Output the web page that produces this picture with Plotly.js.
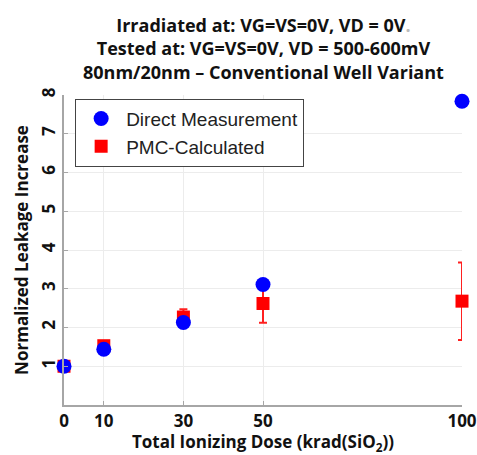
<!DOCTYPE html>
<html><head><meta charset="utf-8">
<script src="https://cdn.plot.ly/plotly-3.0.1.min.js"></script>
<style>html,body{margin:0;padding:0;background:#fff}#c{width:477px;height:455px}</style>
</head><body><div id="c"></div>
<script>
const doses = [0, 10, 30, 50, 100];
const directMeasurement = [1.0, 1.44, 2.13, 3.11, 7.84];
const pmcCalculated = [1.0, 1.53, 2.27, 2.62, 2.68];
const pmcError = [0.05, 0.07, 0.2, 0.5, 1.0];
const xTickLabels = ['0', '10', '30', '50', '100'];
const yTickVals = [1, 2, 3, 4, 5, 6, 7, 8];
const titleLines = ['Irradiated at: VG=VS=0V, VD = 0V<span style="color:#bbb">.</span>',
                    'Tested at: VG=VS=0V, VD = 500-600mV',
                    '80nm/20nm \u2013 Conventional Well Variant'];

const bold = {family: 'Open Sans, sans-serif', size: 17, color: '#111', weight: 'bold'};

const traces = [
  {x: doses, y: pmcCalculated, type: 'scatter', mode: 'markers', name: 'PMC-Calculated', cliponaxis: false,
   marker: {symbol: 'square', size: 13, color: '#ff0000'},
   error_y: {type: 'data', array: pmcError, visible: true, color: '#ff2020', thickness: 2, width: 4}},
  {x: doses, y: directMeasurement, type: 'scatter', mode: 'markers', name: 'Direct Measurement', cliponaxis: false,
   marker: {symbol: 'circle', size: 15, color: '#0000ff'}}
];

const layout = {
  width: 477, height: 455,
  margin: {l: 64, r: 15, t: 95, b: 50},
  paper_bgcolor: '#fff', plot_bgcolor: '#fff',
  annotations: [{text: titleLines.join('<br>'), xref: 'paper', yref: 'paper', x: 0.5, y: 1.27,
                 xanchor: 'center', yanchor: 'top', showarrow: false, align: 'center',
                 font: {family: 'Open Sans, sans-serif', size: 18, color: '#111', weight: 'bold'}}],
  xaxis: {range: [0, 100], tickvals: doses, ticktext: xTickLabels, showgrid: true, gridcolor: '#ececec',
          showline: true, linecolor: '#a6a6a6', linewidth: 2, ticks: 'inside', ticklen: 4, tickcolor: '#a6a6a6',
          zeroline: false, tickfont: bold,
          title: {text: 'Total Ionizing Dose (krad(SiO<sub>2</sub>))', font: bold, standoff: 2}},
  yaxis: {range: [0, 8], tickvals: yTickVals, showgrid: true, gridcolor: '#ececec',
          showline: true, linecolor: '#a6a6a6', linewidth: 2, ticks: 'inside', ticklen: 4, tickcolor: '#a6a6a6',
          zeroline: false, tickfont: bold, tickangle: -90,
          title: {text: 'Normalized Leakage Increase', font: bold, standoff: 4}},
  legend: {x: 0.028, y: 0.988, xanchor: 'left', yanchor: 'top', traceorder: 'reversed',
           bgcolor: '#fff', bordercolor: '#444', borderwidth: 1, itemwidth: 40,
           font: {family: 'Liberation Sans, Arial, sans-serif', size: 19, color: '#222'}},
  showlegend: true
};
Plotly.newPlot('c', traces, layout, {displayModeBar: false, staticPlot: true});
</script></body></html>
